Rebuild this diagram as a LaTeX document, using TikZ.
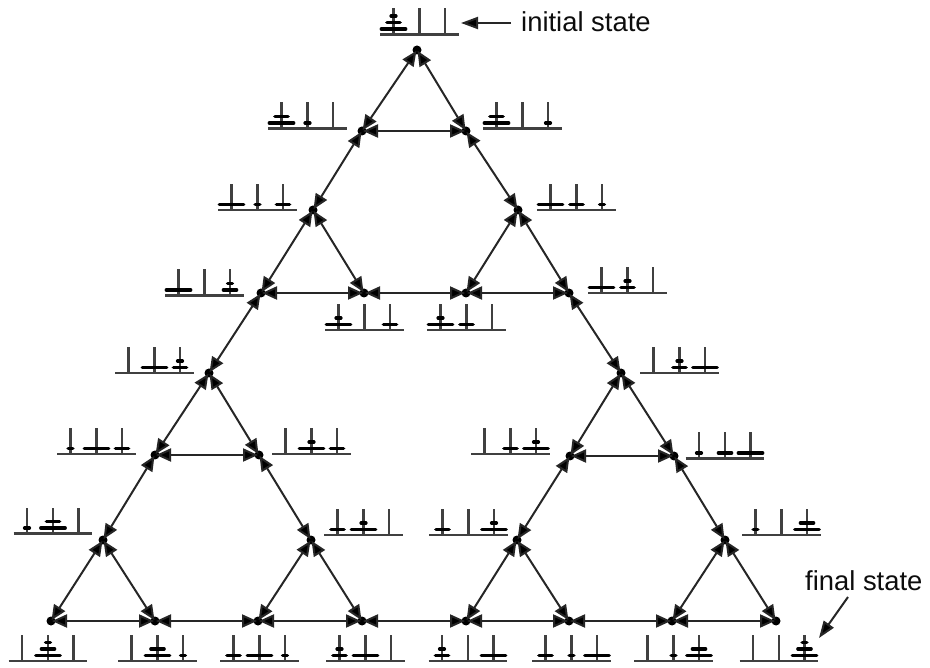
\documentclass[tikz,border=0pt]{standalone}
\usepackage{fontspec}
\setmainfont{Liberation Sans}
\usetikzlibrary{arrows.meta}
\tikzset{
  x=1pt,y=-1pt,
  vert/.style={circle,fill=black,inner sep=0pt,minimum size=9pt,outer sep=0pt},
  edgeline/.style={draw=black!85,line width=2pt,shorten <=-3.5pt,shorten >=-3.5pt,{Triangle[length=15pt,width=13pt,fill=black]}-{Triangle[length=15pt,width=13pt,fill=black]}},
  callout/.style={draw=black!85,line width=2pt,-{Triangle[length=17pt,width=12pt,fill=black]}},
  pegline/.style={draw=black!75,line width=2.1pt},
  diskL/.style={draw=black,line width=3.4pt,line cap=round},
  diskM/.style={draw=black,line width=3.4pt,line cap=round},
  diskS/.style={draw=black,line width=3.4pt,line cap=round},
  statelabel/.style={inner sep=0pt,font=\fontsize{27.4}{30}\selectfont,text=black!95},
}
% half widths of the disks (without the round caps)
\def\wL{12.2}\def\wM{6.6}\def\wS{2.4}\def\wO{0}
% #1 peg offset, #2 comma list of disks bottom first (L, M, S, or O for none)
\newcommand\pegstack[2]{%
  \draw[pegline] (#1,0) -- (#1,-26);
  \foreach \d [count=\i] in {#2}{%
    \if\d O\else
      \pgfmathsetmacro\yy{-5.6-6.5*(\i-1)}%
      \pgfmathsetmacro\hw{\csname w\d\endcsname}%
      \draw[disk\d] (#1-\hw,\yy) -- (#1+\hw,\yy);
    \fi
  }%
}
% name, left of base, y of base, three pegs
\newcommand\puz[6]{%
  \coordinate (#1) at (#2,#3);
  \begin{scope}[shift={(#1)}]
    \draw[pegline] (0,0) -- (78.5,0);
    \pegstack{13.5}{#4}
    \pegstack{39.5}{#5}
    \pegstack{65}{#6}
  \end{scope}
}
\begin{document}
\begin{tikzpicture}
\useasboundingbox (0,0) rectangle (930,668);
% vertices
\node[vert] (t)  at (417,50) {};
\node[vert] (b1) at (362,131) {};
\node[vert] (b2) at (466,131) {};
\node[vert] (c1) at (313,210) {};
\node[vert] (c2) at (518,210) {};
\node[vert] (d1) at (261,293) {};
\node[vert] (d2) at (364,293) {};
\node[vert] (d3) at (466,293) {};
\node[vert] (d4) at (569,293) {};
\node[vert] (e1) at (209,373) {};
\node[vert] (e2) at (621,373) {};
\node[vert] (f1) at (155,455) {};
\node[vert] (f2) at (259,455) {};
\node[vert] (f3) at (570,456) {};
\node[vert] (f4) at (674,456) {};
\node[vert] (g1) at (103,540) {};
\node[vert] (g2) at (311,540) {};
\node[vert] (g3) at (517,540) {};
\node[vert] (g4) at (725,540) {};
\node[vert] (h1) at (51,621) {};
\node[vert] (h2) at (155,621) {};
\node[vert] (h3) at (258,621) {};
\node[vert] (h4) at (362,621) {};
\node[vert] (h5) at (466,621) {};
\node[vert] (h6) at (569,621) {};
\node[vert] (h7) at (672,621) {};
\node[vert] (h8) at (776,621) {};
% connectors
\foreach \a/\b in {t/b1,t/b2,b1/b2,b1/c1,b2/c2,c1/d1,c1/d2,d1/d2,c2/d3,c2/d4,d3/d4,d2/d3,
  d1/e1,d4/e2,e1/f1,e1/f2,f1/f2,f1/g1,f2/g2,g1/h1,g1/h2,h1/h2,g2/h3,g2/h4,h3/h4,h2/h3,
  h4/h5,e2/f3,e2/f4,f3/f4,f3/g3,f4/g4,g3/h5,g3/h6,h5/h6,g4/h7,g4/h8,h7/h8,h6/h7}
  \draw[edgeline] (\a) -- (\b);
% puzzle states
\puz{pt}{380}{34.5}{L,M,S}{O}{O}
\puz{pb1}{268}{128.5}{L,M}{S}{O}
\puz{pb2}{483}{128.5}{L,M}{O}{S}
\puz{pc1}{218}{210}{L}{S}{M}
\puz{pc2}{537}{210}{L}{M}{S}
\puz{pd1}{165}{295.5}{L}{O}{M,S}
\puz{pd2}{325}{330}{L,S}{O}{M}
\puz{pd3}{427}{330}{L,S}{M}{O}
\puz{pd4}{588}{293}{L}{M,S}{O}
\puz{pe1}{115}{373}{O}{L}{M,S}
\puz{pe2}{640}{373}{O}{M,S}{L}
\puz{pf1}{57}{454}{S}{L}{M}
\puz{pf2}{272}{454}{O}{L,S}{M}
\puz{pf3}{471}{454}{O}{M}{L,S}
\puz{pf4}{685.5}{458.5}{S}{M}{L}
\puz{pg1}{13.5}{533.5}{S}{L,M}{O}
\puz{pg2}{324}{535}{M}{L,S}{O}
\puz{pg3}{429}{535}{M}{O}{L,S}
\puz{pg4}{742}{535}{S}{O}{L,M}
\puz{ph1}{8.5}{661}{O}{L,M,S}{O}
\puz{ph2}{118}{661}{O}{L,M}{S}
\puz{ph3}{220}{661}{M}{L}{S}
\puz{ph4}{326}{661}{M,S}{L}{O}
\puz{ph5}{428.5}{661}{M,S}{O}{L}
\puz{ph6}{532}{661}{M}{S}{L}
\puz{ph7}{634}{661}{O}{S}{L,M}
\puz{ph8}{739.5}{661}{O}{O}{L,M,S}
% labels
\node[statelabel,anchor=west] (init) at (521,22) {initial state};
\node[statelabel,anchor=west] (fin)  at (805,581) {final state};
\coordinate (initfrom) at (511,23);
\coordinate (initto)   at (461,23);
\coordinate (finfrom)  at (848,597);
\coordinate (finto)    at (819,638);
\draw[callout] (initfrom) -- (initto);
\draw[callout] (finfrom) -- (finto);
\end{tikzpicture}
\end{document}
